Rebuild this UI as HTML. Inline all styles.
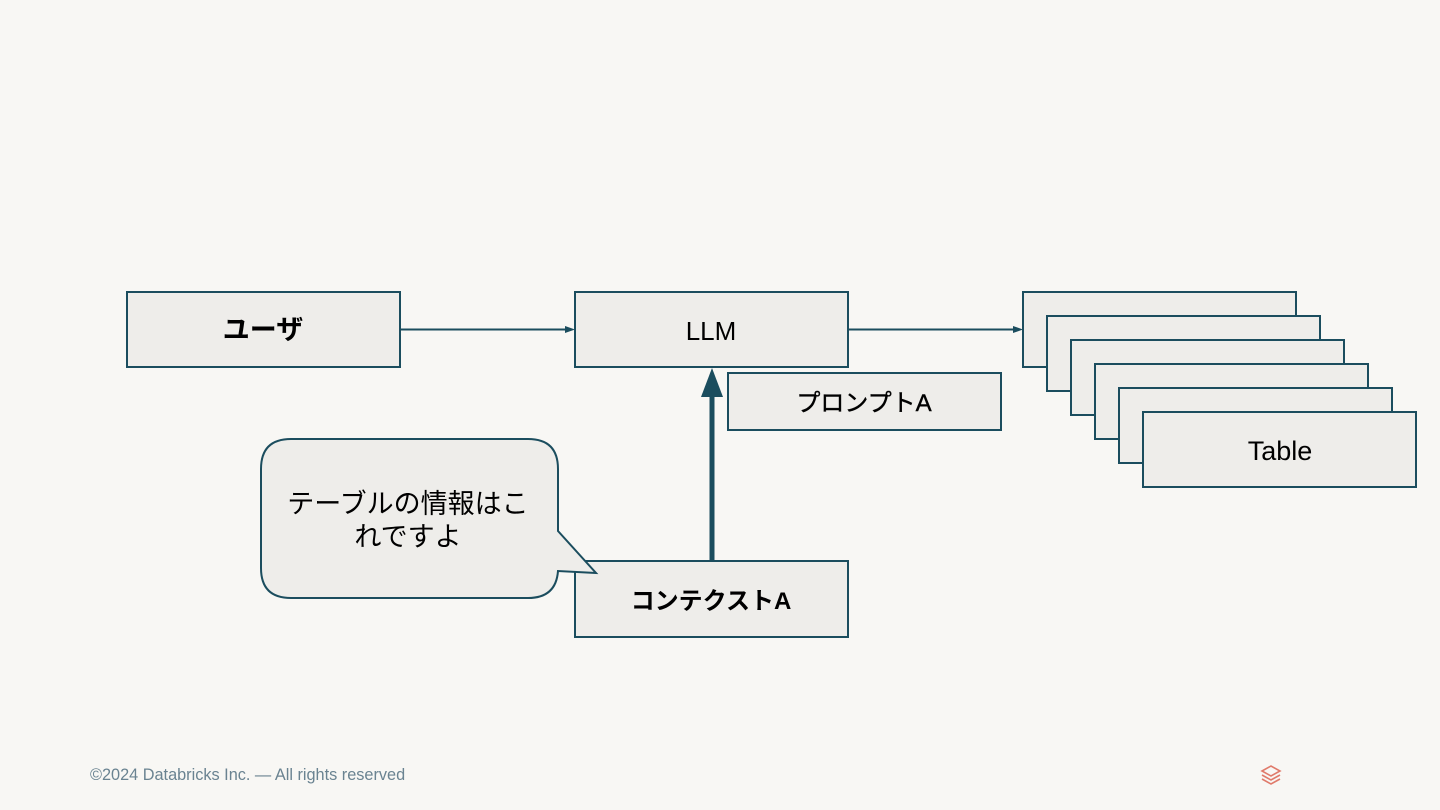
<!DOCTYPE html>
<html><head><meta charset="utf-8"><style>
html,body{margin:0;padding:0;background:#f8f7f4;}
svg{display:block;}
text{font-family:"Liberation Sans","Noto Sans CJK JP",sans-serif;fill:#000;}
</style></head><body>
<svg width="1440" height="810" viewBox="0 0 1440 810" xmlns="http://www.w3.org/2000/svg">
<rect width="1440" height="810" fill="#f8f7f4"/>
<g fill="#eeedea" stroke="#1b4d5e" stroke-width="2">
<rect x="127" y="292" width="273" height="75"/>
<rect x="575" y="292" width="273" height="75"/>
<rect x="728" y="373" width="273" height="57"/>
<rect x="575" y="561" width="273" height="76"/>
<rect x="1023" y="292" width="273" height="75"/>
<rect x="1047" y="316" width="273" height="75"/>
<rect x="1071" y="340" width="273" height="75"/>
<rect x="1095" y="364" width="273" height="75"/>
<rect x="1119" y="388" width="273" height="75"/>
<rect x="1143" y="412" width="273" height="75"/>
<path d="M291,439 H528 Q558,439 558,469 V531 L596,573 L558,571 Q556,598 528,598 H291 Q261,598 261,568 V469 Q261,439 291,439 Z"/>
</g>
<g stroke="#1b4d5e" stroke-width="2" fill="#1b4d5e">
<line x1="400" y1="329.5" x2="568" y2="329.5"/>
<path d="M575,329.5 L565,326 L565,333 Z" stroke="none"/>
<line x1="848" y1="329.5" x2="1016" y2="329.5"/>
<path d="M1023,329.5 L1013,326 L1013,333 Z" stroke="none"/>
<line x1="712" y1="561" x2="712" y2="395" stroke-width="5"/>
<path d="M712,368 L701,397 L723,397 Z" stroke="none"/>
</g>
<text x="263" y="339" font-size="27" font-weight="bold" text-anchor="middle">ユーザ</text>
<text x="711" y="340" font-size="26" text-anchor="middle">LLM</text>
<text x="864" y="411" font-size="24" text-anchor="middle" stroke="#000" stroke-width="0.4">プロンプトA</text>
<text x="711" y="609" font-size="24" font-weight="bold" text-anchor="middle">コンテクストA</text>
<text x="1280" y="460" font-size="27" text-anchor="middle">Table</text>
<text x="408" y="513" font-size="27" text-anchor="middle">テーブルの情報はこ</text>
<text x="408" y="546" font-size="27" text-anchor="middle">れですよ</text>
<text x="90" y="780" font-size="16.3" style="fill:#6a8391">©2024 Databricks Inc. — All rights reserved</text>
<g fill="none" stroke="#e07a6a" stroke-width="1.6">
<path d="M1262,771 L1271,766 L1280,771 L1271,776 Z"/>
<path d="M1262,775 L1271,780 L1280,775"/>
<path d="M1262,779 L1271,784 L1280,779"/>
</g>
</svg>
</body></html>
